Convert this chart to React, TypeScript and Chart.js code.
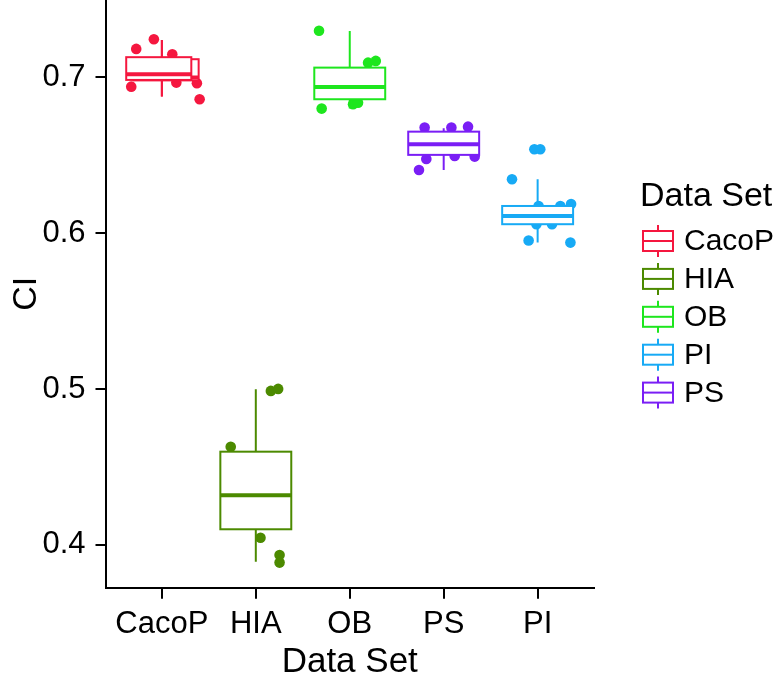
import React, { useEffect, useRef } from 'react';
import { Chart, registerables } from 'chart.js';

Chart.register(...registerables);

// ---------- data ----------
const categories = ['CacoP', 'HIA', 'OB', 'PS', 'PI'];
const categoryColors = ['#F5173F', '#4C8A00', '#1EE61E', '#7A1EF5', '#17AAF5'];

const legendTitle = 'Data Set';
const legendLabels = ['CacoP', 'HIA', 'OB', 'PI', 'PS'];
const legendColors = ['#F5173F', '#4C8A00', '#1EE61E', '#17AAF5', '#7A1EF5'];

const yTicks = [0.4, 0.5, 0.6, 0.7];

// jittered observations (value, horizontal jitter in category units)
const cacoPValues = [0.7183, 0.7245, 0.7149, 0.6941, 0.6967, 0.6963, 0.686];
const cacoPJitter = [-0.273, -0.085, 0.111, -0.326, 0.154, 0.373, 0.402];
const hiaValues = [0.4988, 0.5001, 0.463, 0.4046, 0.3935, 0.3886];
const hiaJitter = [0.16, 0.238, -0.267, 0.05, 0.253, 0.253];
const obValues = [0.73, 0.7095, 0.7106, 0.68, 0.6828, 0.6838];
const obJitter = [-0.327, 0.195, 0.277, -0.299, 0.035, 0.088];
const psValues = [0.6678, 0.6678, 0.6684, 0.6477, 0.6496, 0.6492, 0.6406];
const psJitter = [-0.203, 0.082, 0.259, -0.185, 0.117, 0.33, -0.263];
const piValues = [0.6539, 0.6539, 0.6347, 0.6188, 0.5953, 0.594, 0.6175, 0.6175, 0.6058, 0.6058];
const piJitter = [-0.035, 0.028, -0.273, 0.356, -0.096, 0.349, 0.01, 0.242, -0.013, 0.153];

const pointValues = [cacoPValues, hiaValues, obValues, psValues, piValues];
const pointJitter = [cacoPJitter, hiaJitter, obJitter, psJitter, piJitter];

// box statistics (CacoP has two overlapping boxes)
const boxCategory = [0, 0, 1, 2, 3, 4];
const boxShift = [0.045, -0.033, 0, 0, 0, 0];
const boxWidth = [0.693, 0.693, 0.755, 0.755, 0.755, 0.755];
const whiskerLow = [0.6877, 0.6877, 0.3892, 0.68, 0.6406, 0.594];
const q1 = [0.6981, 0.6984, 0.41, 0.686, 0.6503, 0.6058];
const median = [0.6999, 0.7021, 0.4318, 0.6939, 0.6571, 0.6111];
const q3 = [0.7117, 0.713, 0.4598, 0.7063, 0.6652, 0.6175];
const whiskerHigh = [0.724, 0.724, 0.4999, 0.7298, 0.6674, 0.6347];

const FONT = "'Liberation Sans', Arial, Helvetica, sans-serif";

const boxPlugin = {
  id: 'boxes',
  afterDatasetsDraw(chart: any) {
    const { ctx, scales } = chart;
    const xs = scales.x;
    const ys = scales.y;
    ctx.save();
    const area = chart.chartArea;
    ctx.beginPath();
    ctx.rect(area.left, area.top, area.right - area.left, area.bottom - area.top);
    ctx.clip();
    for (let i = 0; i < boxCategory.length; i++) {
      const c = boxCategory[i];
      const color = categoryColors[c];
      const pos = c + 1;
      const xc = xs.getPixelForValue(pos);
      const x0 = xs.getPixelForValue(pos + boxShift[i] - boxWidth[i] / 2);
      const x1 = xs.getPixelForValue(pos + boxShift[i] + boxWidth[i] / 2);
      const yLo = ys.getPixelForValue(whiskerLow[i]);
      const yQ1 = ys.getPixelForValue(q1[i]);
      const yMed = ys.getPixelForValue(median[i]);
      const yQ3 = ys.getPixelForValue(q3[i]);
      const yHi = ys.getPixelForValue(whiskerHigh[i]);
      ctx.strokeStyle = color;
      ctx.lineWidth = 2;
      ctx.beginPath();
      ctx.moveTo(xc, yQ3);
      ctx.lineTo(xc, yHi);
      ctx.moveTo(xc, yQ1);
      ctx.lineTo(xc, yLo);
      ctx.stroke();
      ctx.fillStyle = '#ffffff';
      ctx.fillRect(x0, yQ3, x1 - x0, yQ1 - yQ3);
      ctx.strokeRect(x0, yQ3, x1 - x0, yQ1 - yQ3);
      ctx.lineWidth = 4;
      ctx.beginPath();
      ctx.moveTo(x0, yMed);
      ctx.lineTo(x1, yMed);
      ctx.stroke();
    }
    ctx.restore();
  },
};

const legendPlugin = {
  id: 'boxLegend',
  afterDraw(chart: any) {
    const { ctx } = chart;
    ctx.save();
    ctx.fillStyle = '#000';
    ctx.textAlign = 'left';
    ctx.textBaseline = 'middle';
    ctx.font = `34px ${FONT}`;
    ctx.fillText(legendTitle, 640, 197);
    ctx.font = `30px ${FONT}`;
    for (let i = 0; i < legendLabels.length; i++) {
      const cy = 241 + i * 37.9;
      const color = legendColors[i];
      const bx0 = 643;
      const bx1 = 673;
      const bxc = (bx0 + bx1) / 2;
      ctx.strokeStyle = color;
      ctx.lineWidth = 2;
      ctx.beginPath();
      ctx.moveTo(bxc, cy - 16);
      ctx.lineTo(bxc, cy - 10);
      ctx.moveTo(bxc, cy + 10);
      ctx.lineTo(bxc, cy + 16);
      ctx.stroke();
      ctx.fillStyle = '#fff';
      ctx.fillRect(bx0, cy - 10, bx1 - bx0, 20);
      ctx.strokeRect(bx0, cy - 10, bx1 - bx0, 20);
      ctx.beginPath();
      ctx.moveTo(bx0, cy);
      ctx.lineTo(bx1, cy);
      ctx.stroke();
      ctx.fillStyle = '#000';
      ctx.fillText(legendLabels[i], 684, cy + 1);
    }
    ctx.restore();
  },
};

export default function App() {
  const ref = useRef<HTMLCanvasElement | null>(null);
  useEffect(() => {
    document.body.style.margin = '0';
    const canvas = ref.current;
    if (!canvas) return;
    Chart.defaults.font.family = FONT;
    const datasets = categories.map((name, c) => ({
      label: name,
      data: pointValues[c].map((v, j) => ({ x: c + 1 + pointJitter[c][j], y: v })),
      backgroundColor: categoryColors[c],
      borderColor: categoryColors[c],
      borderWidth: 0,
      pointRadius: 5.3,
      pointHoverRadius: 5.3,
    }));
    const chart = new Chart(canvas, {
      type: 'scatter',
      data: { datasets },
      plugins: [boxPlugin, legendPlugin],
      options: {
        animation: false,
        responsive: false,
        devicePixelRatio: 1,
        events: [],
        layout: { autoPadding: false, padding: { left: 0, right: 190, top: 0, bottom: 0 } },
        plugins: { legend: { display: false }, tooltip: { enabled: false } },
        scales: {
          x: {
            type: 'linear',
            min: 0.4,
            max: 5.6,
            afterBuildTicks: (s: any) => {
              s.ticks = categories.map((_, i) => ({ value: i + 1 }));
            },
            afterFit: (s: any) => {
              s.height = 677 - 587.7;
              s.paddingLeft = 0;
              s.paddingRight = 0;
            },
            ticks: {
              callback: (v: any) => categories[Math.round(Number(v)) - 1] ?? '',
              color: '#000',
              font: { size: 31, family: FONT },
              padding: 7,
              maxRotation: 0,
              autoSkip: false,
            },
            grid: { drawOnChartArea: false, drawTicks: true, tickLength: 11, color: '#000', lineWidth: 2 },
            border: { display: true, color: '#000', width: 2 },
            title: {
              display: true,
              text: 'Data Set',
              color: '#000',
              font: { size: 35, family: FONT, lineHeight: 0.85 },
              padding: { top: 0, bottom: 0 },
            },
          },
          y: {
            type: 'linear',
            min: 0.3725,
            max: 0.7497,
            afterBuildTicks: (s: any) => {
              s.ticks = yTicks.map((v) => ({ value: v }));
            },
            afterFit: (s: any) => {
              s.width = 105.5;
              s.paddingTop = 0;
              s.paddingBottom = 0;
            },
            ticks: {
              callback: (v: any) => Number(v).toFixed(1),
              color: '#000',
              font: { size: 31, family: FONT },
              padding: 10,
            },
            grid: { drawOnChartArea: false, drawTicks: true, tickLength: 10, color: '#000', lineWidth: 2 },
            border: { display: true, color: '#000', width: 2 },
            title: {
              display: true,
              text: 'CI',
              color: '#000',
              font: { size: 34, family: FONT },
              padding: { top: 6, bottom: 0 },
            },
          },
        },
      } as any,
    });
    return () => chart.destroy();
  }, []);
  return (
    <div style={{ position: 'absolute', left: 0, top: 0, width: 784, height: 677, background: '#fff' }}>
      <canvas ref={ref} width={784} height={677} style={{ display: 'block' }} />
    </div>
  );
}
